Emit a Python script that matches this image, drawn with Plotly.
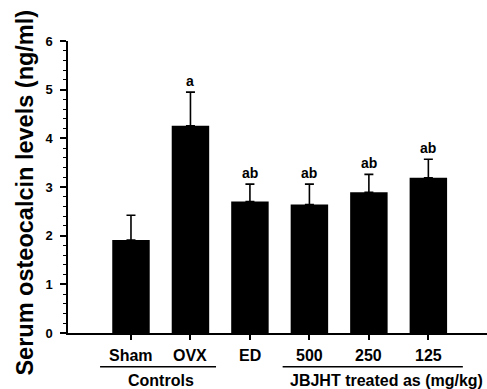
import plotly.graph_objects as go

categories = ["Sham", "OVX", "ED", "500", "250", "125"]
means = [1.91, 4.26, 2.70, 2.64, 2.89, 3.19]
errors = [0.51, 0.69, 0.36, 0.42, 0.37, 0.38]
sig_labels = ["", "a", "ab", "ab", "ab", "ab"]
y_ticks = [0, 1, 2, 3, 4, 5, 6]
group_names = ["Controls", "JBJHT treated as (mg/kg)"]
# (line start, line end, text centre) in category units
group_spans = [(-0.52, 1.43, 0.50), (2.55, 5.58, 4.29)]

x = list(range(len(categories)))
font_main = "Arial, Liberation Sans, sans-serif"

fig = go.Figure()
fig.add_trace(go.Bar(
    x=x, y=means, width=0.63,
    marker=dict(color="black", line=dict(color="black", width=0)),
    error_y=dict(type="data", array=errors, symmetric=False, arrayminus=[0]*6,
                 color="black", thickness=1.6, width=4.5, visible=True),
))

annotations = []
for i, (m, e, s) in enumerate(zip(means, errors, sig_labels)):
    if s:
        annotations.append(dict(x=i, y=m + e, text=f"<b>{s}</b>", showarrow=False,
                                yanchor="bottom", yshift=1, xref="x", yref="y",
                                font=dict(size=14, color="black", family=font_main)))
for i, c in enumerate(categories):
    annotations.append(dict(x=i, y=-0.077, text=f"<b>{c}</b>", showarrow=False,
                            xref="x", yref="paper", yanchor="middle",
                            font=dict(size=16, color="black", family=font_main)))
shapes = []
for name, (x0, x1, xc) in zip(group_names, group_spans):
    shapes.append(dict(type="line", xref="x", yref="paper", x0=x0, x1=x1,
                       y0=-0.1154, y1=-0.1154, line=dict(color="black", width=1.5)))
    annotations.append(dict(x=xc, y=-0.161, text=f"<b>{name}</b>", showarrow=False,
                            xref="x", yref="paper", yanchor="middle",
                            font=dict(size=16, color="black", family=font_main)))

annotations.append(dict(x=-0.1026, y=0.481, xref="paper", yref="paper",
                        text="<b>Serum osteocalcin levels (ng/ml)</b>", textangle=-90,
                        showarrow=False, xanchor="center", yanchor="middle",
                        font=dict(size=23.5, color="black", family=font_main)))

fig.update_layout(
    width=487, height=389,
    margin=dict(l=68, r=0, t=41, b=56),
    paper_bgcolor="white", plot_bgcolor="white",
    showlegend=False,
    annotations=annotations, shapes=shapes,
    font=dict(family=font_main, color="black"),
    xaxis=dict(range=[-1.059, 5.986], tickmode="array", tickvals=x, ticktext=[""]*6,
               ticks="outside", ticklen=5, tickwidth=1.5, tickcolor="black",
               showline=True, linecolor="black", linewidth=1.5, showgrid=False,
               zeroline=False, fixedrange=True),
    yaxis=dict(range=[0, 6], tickmode="array", tickvals=y_ticks,
               ticktext=[f"<b>{t}</b>" for t in y_ticks],
               tickfont=dict(size=13, family=font_main, color="black"),
               ticks="outside", ticklen=6, tickwidth=1.5, tickcolor="black",
               ticklabelstandoff=5,
               minor=dict(dtick=0.2, ticks="outside", ticklen=3, tickwidth=1, tickcolor="black", showgrid=False),
               showline=True, linecolor="black", linewidth=1.5, showgrid=False, zeroline=False),
)

fig.write_html("out.html", config={"displayModeBar": False},
               post_script="document.body.style.margin='0';document.body.style.overflow='hidden';")
